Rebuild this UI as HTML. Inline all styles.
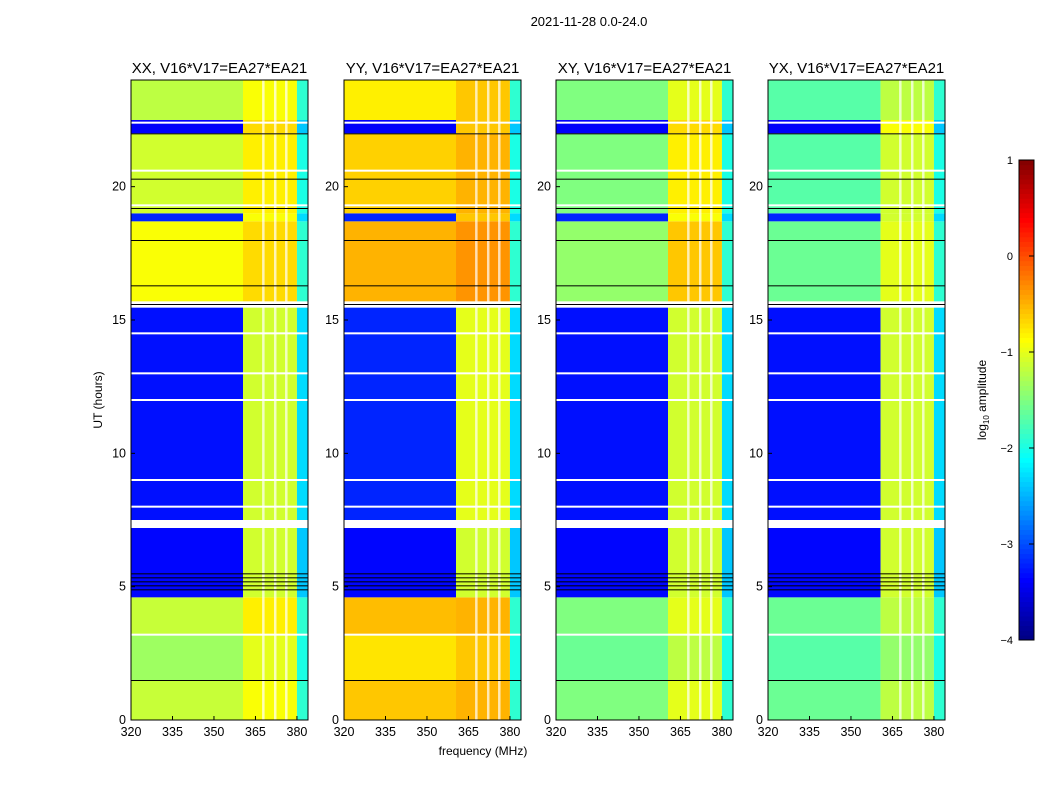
<!DOCTYPE html>
<html><head><meta charset="utf-8"><style>
body{margin:0;background:#fff;font-family:"Liberation Sans",sans-serif}
svg text{font-family:"Liberation Sans",sans-serif}
</style></head><body>
<svg id="fig" width="1050" height="800" xmlns="http://www.w3.org/2000/svg">
<text x="589" y="26" font-size="13" text-anchor="middle">2021-11-28 0.0-24.0</text>
<text x="483" y="755" font-size="12" text-anchor="middle">frequency (MHz)</text>
<text transform="translate(102,400) rotate(-90)" font-size="12" text-anchor="middle">UT (hours)</text>
<g id="plots"></g>
<g id="cbar"></g>
</svg>
<script>
const panelTitles=["XX, V16*V17=EA27*EA21","YY, V16*V17=EA27*EA21","XY, V16*V17=EA27*EA21","YX, V16*V17=EA27*EA21"];
const timeEdges=[0,1.5,3.2,4.6,7.2,7.5,15.5,15.7,18.7,19.0,22.0,22.5,24];
const bgXX=[-1.15,-1.35,-1.15,-3.35,null,-3.3,null,-0.9,-3.2,-1.1,-3.4,-1.2];
const bgYY=[-0.6,-0.75,-0.55,-3.35,null,-3.2,null,-0.5,-3.2,-0.65,-3.4,-0.8];
const bgXY=[-1.5,-1.6,-1.5,-3.35,null,-3.3,null,-1.4,-3.2,-1.5,-3.4,-1.5];
const bgYX=[-1.6,-1.7,-1.6,-3.35,null,-3.3,null,-1.6,-3.2,-1.7,-3.4,-1.7];
const rfiXX=[-0.9,-1.0,-0.8,-1.1,null,-1.1,null,-0.7,-0.9,-0.8,-0.7,-0.9];
const rfiYY=[-0.5,-0.6,-0.5,-1.1,null,-1.0,null,-0.35,-0.6,-0.5,-0.6,-0.6];
const rfiXY=[-1.0,-1.2,-1.0,-1.1,null,-1.1,null,-0.6,-0.9,-0.8,-0.7,-1.0];
const rfiYX=[-1.2,-1.4,-1.2,-1.1,null,-1.1,null,-1.0,-1.1,-1.1,-0.9,-1.2];
const edgeVal=[-1.9,-2.0,-1.9,-2.4,null,-2.3,null,-1.9,-2.3,-2.0,-2.4,-1.9];
const rfiStart=[360.5,360.5,360.5,360.7]; const rfiEnd=380;
const gapFreqs=[367.4,371.7,375.7];
const whiteLines=[3.2,7.3,15.5,20.6,22.4,19.3,8.0,9.0,12.0,13.0,14.5];
const blackLines=[1.5,4.9,5.05,5.2,5.35,5.5,15.6,18.0,19.2,20.3,22.0,16.3];
const xTicks=[320,335,350,365,380]; const yTicks=[0,5,10,15,20];
const cbTicks=[-4,-3,-2,-1,0,1];
const bgs=[bgXX,bgYY,bgXY,bgYX], rfis=[rfiXX,rfiYY,rfiXY,rfiYX];
const lefts=[131,344,556,768], PW=177, TOP=80, BOT=720;
const NS="http://www.w3.org/2000/svg";
function jet(v){let t=Math.max(0,Math.min(1,(v+4)/5));const c=x=>Math.round(255*Math.max(0,Math.min(1,1.5-Math.abs(x))));return `rgb(${c(4*t-3)},${c(4*t-2)},${c(4*t-1)})`;}
function mk(tag,attrs,parent){const e=document.createElementNS(NS,tag);for(const k in attrs)e.setAttribute(k,attrs[k]);parent.appendChild(e);return e;}
const plots=document.getElementById('plots');
for(let p=0;p<4;p++){
  const L=lefts[p];
  const xs=f=>L+(f-320)*PW/64; const ys=h=>BOT-(h/24)*(BOT-TOP);
  const g=mk('g',{},plots);
  
  
  for(let i=0;i<timeEdges.length-1;i++){
    const y0=ys(timeEdges[i+1]),y1=ys(timeEdges[i]);
    if(bgs[p][i]===null){continue;}
    const r1=mk('rect',{x:L,y:y0,width:xs(rfiStart[p])-L,height:y1-y0,fill:jet(bgs[p][i])},g);
    
    
    const r2=mk('rect',{x:xs(rfiStart[p]),y:y0,width:xs(rfiEnd)-xs(rfiStart[p]),height:y1-y0,fill:jet(rfis[p][i])},g);
    
    
    const r3=mk('rect',{x:xs(rfiEnd),y:y0,width:L+PW-xs(rfiEnd),height:y1-y0,fill:jet(edgeVal[i])},g);
    
    
  }
  gapFreqs.forEach(f=>{const r=mk('rect',{x:xs(f),y:TOP,width:2.5,height:BOT-TOP,fill:'#fff',opacity:0.7},g);
    });
  whiteLines.forEach(h=>{const r=mk('rect',{x:L,y:ys(h)-1,width:PW,height:2,fill:'#fff'},g);
    });
  blackLines.forEach(h=>{const r=mk('rect',{x:L,y:ys(h),width:PW,height:1,fill:'#000'},g);
    });
  const fr=mk('rect',{x:L,y:TOP,width:PW,height:BOT-TOP,fill:'none',stroke:'#000','stroke-width':1},g);
  
  const t=mk('text',{x:L+PW/2,y:73,'font-size':15,'text-anchor':'middle'},g);t.textContent=panelTitles[p];
  
  xTicks.forEach(v=>{mk('line',{x1:xs(v),x2:xs(v),y1:BOT,y2:BOT-4,stroke:'#000'},g);
    const tx=mk('text',{x:xs(v),y:BOT+16,'font-size':12.5,'text-anchor':'middle'},g);tx.textContent=v;
    });
  yTicks.forEach(v=>{mk('line',{x1:L,x2:L+4,y1:ys(v),y2:ys(v),stroke:'#000'},g);
    const tx=mk('text',{x:L-5,y:ys(v)+4,'font-size':12.5,'text-anchor':'end'},g);tx.textContent=v;
    });
}
const cb=document.getElementById('cbar');
const cy=v=>640-(v+4)/5*480;
for(let i=0;i<100;i++){const v=-4+5*i/100;mk('rect',{x:1019,y:cy(v+0.05),width:15,height:5.2,fill:jet(v+0.025)},cb);}
mk('rect',{x:1019,y:160,width:15,height:480,fill:'none',stroke:'#000'},cb);
cbTicks.forEach(v=>{mk('line',{x1:1029,x2:1034,y1:cy(v),y2:cy(v),stroke:'#000'},cb);
  const tx=mk('text',{x:1013,y:cy(v)+4,'font-size':11,'text-anchor':'end'},cb);tx.textContent=v<0?'\u2212'+(-v):v;
  });
const ct=mk('text',{transform:'translate(986,400) rotate(-90)','font-size':12,'text-anchor':'middle'},cb);
ct.innerHTML='log<tspan font-size="8" dy="3">10</tspan><tspan dy="-3"> amplitude</tspan>';

</script>
</body></html>
